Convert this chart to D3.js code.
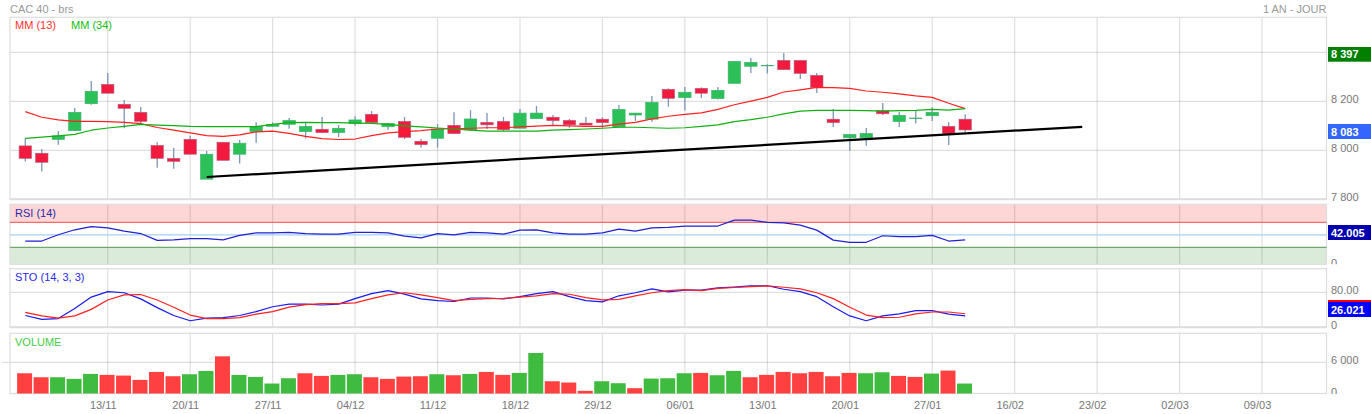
<!DOCTYPE html>
<html>
<head>
<meta charset="utf-8">
<script src="https://cdn.jsdelivr.net/npm/d3@7"></script>
<style>
  html, body { margin: 0; padding: 0; background: #fff; overflow: hidden; }
  svg { display: block; font-family: "Liberation Sans", Arial, sans-serif; font-size: 11px; }
  .grid line { stroke: #000; stroke-opacity: 0.125; stroke-width: 1.2; }
  .grid path { display: none; }
  .labels path, .labels line { display: none; }
  .labels text { fill: #777; font-size: 11px; font-family: "Liberation Sans", Arial, sans-serif; }
</style>
</head>
<body>
<div id="chart"></div>
<script>
// session index of each date label on the time axis
const tickDays = [5, 10, 15, 20, 25, 30, 35, 40, 45, 50, 55, 60, 65, 70, 75];
const tickLabels = ['13/11', '20/11', '27/11', '04/12', '11/12', '18/12', '29/12', '06/01',
  '13/01', '20/01', '27/01', '16/02', '23/02', '02/03', '09/03'];

const opens = [8018, 7988, 8044, 8080, 8190, 8269, 8188, 8155, 8020, 7967,
  8045, 7882, 8033, 7984, 8076, 8098, 8106, 8076, 8086, 8072,
  8109, 8147, 8096, 8118, 8037, 8049, 8102, 8083, 8114, 8118,
  8090, 8129, 8135, 8122, 8111, 8127, 8095, 8144, 8127, 8249,
  8215, 8253, 8211, 8273, 8343, 8345, 8367, 8367, 8306, 8127,
  8051, 8051, 8162, 8117, 8129, 8141, 8098, 8127];
const highs = [8049, 8005, 8079, 8173, 8283, 8316, 8205, 8177, 8033, 8010,
  8059, 7997, 8033, 8042, 8114, 8114, 8132, 8112, 8136, 8103,
  8139, 8160, 8111, 8136, 8046, 8107, 8155, 8164, 8152, 8136,
  8169, 8181, 8144, 8128, 8136, 8135, 8185, 8152, 8222, 8253,
  8258, 8257, 8258, 8363, 8377, 8351, 8397, 8367, 8316, 8169,
  8067, 8091, 8193, 8156, 8163, 8176, 8114, 8147];
const lows = [7954, 7913, 8023, 8080, 8186, 8233, 8090, 8107, 7929, 7925,
  7984, 7882, 7959, 7946, 8031, 8095, 8088, 8048, 8072, 8054,
  8100, 8111, 8084, 8046, 8011, 8011, 8068, 8080, 8087, 8079,
  8090, 8129, 8103, 8092, 8103, 8092, 8095, 8120, 8117, 8178,
  8162, 8213, 8207, 8273, 8316, 8313, 8329, 8291, 8234, 8095,
  7998, 8019, 8144, 8095, 8109, 8120, 8022, 8075];
const closes = [7967, 7951, 8059, 8155, 8241, 8233, 8171, 8118, 7967, 7955,
  7984, 7984, 7959, 8029, 8098, 8106, 8122, 8098, 8072, 8090,
  8124, 8113, 8110, 8053, 8023, 8087, 8068, 8128, 8104, 8084,
  8152, 8152, 8121, 8104, 8103, 8113, 8167, 8152, 8196, 8212,
  8237, 8233, 8245, 8363, 8359, 8347, 8329, 8314, 8257, 8113,
  8065, 8069, 8149, 8143, 8132, 8155, 8068, 8083];

const ma13 = [8158, 8135, 8124, 8118, 8118, 8117, 8114, 8109, 8093, 8082,
  8071, 8060, 8057, 8063, 8075, 8078, 8069, 8057, 8048, 8044,
  8046, 8060, 8071, 8076, 8080, 8087, 8088, 8090, 8092, 8092,
  8096, 8099, 8102, 8100, 8098, 8098, 8107, 8114, 8128, 8139,
  8147, 8153, 8167, 8186, 8201, 8216, 8238, 8247, 8257, 8256,
  8253, 8242, 8237, 8230, 8222, 8216, 8192, 8170];
const ma34 = [8049, 8054, 8059, 8065, 8082, 8091, 8098, 8106, 8103, 8101,
  8098, 8097, 8097, 8097, 8097, 8106, 8113, 8114, 8113, 8113,
  8111, 8110, 8106, 8100, 8096, 8091, 8087, 8082, 8078, 8078,
  8078, 8078, 8082, 8084, 8087, 8090, 8094, 8094, 8092, 8090,
  8092, 8098, 8104, 8117, 8125, 8135, 8149, 8160, 8163, 8163,
  8163, 8162, 8160, 8162, 8163, 8167, 8164, 8170];

const trendDays = [11, 64.1];
const trendPrices = [7891, 8096];

const rsi = [40, 40, 50, 58, 63, 61, 56, 52, 41, 42,
  44, 44, 42, 49, 53, 53, 54, 52, 51, 51,
  54, 54, 53, 48, 45, 52, 50, 54, 53, 51,
  57.5, 58, 53, 51, 51, 53, 59, 56, 61, 62,
  64, 64, 64, 73.5, 73.5, 70, 69, 65.5, 57.5, 41.5,
  38, 38, 48.5, 47, 47, 49, 40, 42.005];
const stoK = [27, 18, 20, 43, 69, 81.5, 79, 65, 45, 27,
  15, 21, 22, 27, 36, 47, 53, 53, 51, 53,
  65.5, 77, 84, 76, 65, 61, 59, 67, 67, 65,
  70, 77, 81.5, 70, 61, 58, 72, 79, 88, 81,
  85, 85, 90, 92, 94.5, 95, 87, 81.5, 70, 47,
  26, 15, 26, 30.5, 38, 38, 30, 26.021];
const stoD = [34, 26, 21, 26, 41, 62.5, 74, 75, 62.5, 46,
  28, 20, 20, 22, 30, 36, 46, 52, 54, 54,
  56, 65.5, 74, 79, 74, 68, 61, 64, 65.5, 66,
  69, 72, 77, 75.5, 68, 62.5, 64, 72, 79, 84,
  86, 84, 89, 91, 93, 94.5, 91.5, 88, 79, 65.5,
  46, 28, 22, 23, 30.5, 35, 35, 31];

const volumes = [3894, 3128, 3128, 2809, 3766, 3574, 3447, 2617, 4149, 3319,
  3702, 4340, 7149, 3574, 3191, 1915, 2936, 3894, 3383, 3574,
  3702, 3128, 2809, 3255, 3319, 3702, 3511, 3766, 4149, 3574,
  3957, 7787, 2362, 2106, 511, 2362, 1979, 1021, 2872, 2936,
  3894, 3957, 3511, 4340, 3128, 3574, 4149, 3894, 4149, 3319,
  3957, 3894, 4085, 3383, 3191, 3830, 4404, 1915];
const volumeUp = [0, 0, 1, 1, 1, 0, 0, 0, 0, 0,
  1, 1, 0, 1, 1, 1, 1, 0, 0, 1,
  1, 0, 0, 0, 0, 1, 0, 1, 0, 0,
  1, 1, 0, 0, 0, 1, 1, 0, 1, 1,
  1, 0, 1, 1, 0, 0, 0, 0, 0, 0,
  0, 1, 1, 0, 0, 1, 0, 1];

const width = 1371;
const height = 414;
const left = 10;
const right = 1326.5;

const main = { top: 17.3, bottom: 199.3 };
const rsiBox = { top: 204.3, bottom: 264.3 };
const stoBox = { top: 268.7, bottom: 327.3 };
const volBox = { top: 333.3, bottom: 393.5 };

const days = d3.range(opens.length);

const x = d3.scaleLinear().domain([0, 75]).range([25.3, 1262]);
const yPrice = d3.scaleLinear().domain([7800, 8400]).range([199.3, 52.3]);
const yRsi = d3.scaleLinear().domain([30, 70]).range([247.3, 222.3]);
const ySto = d3.scaleLinear().domain([0, 80]).range([327.3, 292.3]);
const yVol = d3.scaleLinear().domain([0, 6000]).range([393.5, 362.3]);

const spaced = d3.formatLocale({ thousands: ' ', grouping: [3], decimal: '.', currency: ['', ''] }).format(',d');

const svg = d3.select('#chart').append('svg')
  .attr('width', width)
  .attr('height', height)
  .attr('viewBox', `0 0 ${width} ${height}`);

function panelGrid(box, y, levels, overhang = 0) {
  const g = svg.append('g').attr('class', 'grid');

  g.append('g')
    .attr('transform', `translate(0, ${box.bottom})`)
    .call(d3.axisBottom(x).offset(0).tickValues(tickDays).tickFormat('').tickSize(-(box.bottom - box.top)));

  g.append('g')
    .attr('transform', `translate(${right}, 0)`)
    .call(d3.axisLeft(y).offset(0).tickValues(levels).tickFormat('').tickSize(right - left + overhang));
}

function panelFrame(box) {
  svg.append('rect')
    .attr('x', left)
    .attr('y', box.top)
    .attr('width', right - left)
    .attr('height', box.bottom - box.top)
    .attr('fill', 'none')
    .attr('stroke', '#ddd')
    .attr('stroke-width', 1.2);
}

function priceLabels(y, values, format, clipId) {
  const g = svg.append('g')
    .attr('class', 'labels')
    .attr('transform', `translate(${right + 4.5}, -1.5)`)
    .call(d3.axisRight(y).offset(0).tickValues(values).tickFormat(format).tickSize(0).tickPadding(0));
  if (clipId) g.attr('clip-path', `url(#${clipId})`);
  return g;
}

function valueBox(y, boxHeight, fill, label) {
  svg.append('rect')
    .attr('x', 1328)
    .attr('y', y)
    .attr('width', 43)
    .attr('height', boxHeight)
    .attr('fill', fill);
  if (label) {
    svg.append('text')
      .attr('x', 1331)
      .attr('y', y + boxHeight / 2 + 4)
      .attr('fill', '#fff')
      .attr('font-weight', 'bold')
      .text(label);
  }
}

function caption(px, py, color, label, anchor = 'start') {
  svg.append('text')
    .attr('x', px)
    .attr('y', py)
    .attr('fill', color)
    .attr('text-anchor', anchor)
    .text(label);
}

function drawLine(values, y, color, lineWidth) {
  const line = d3.line()
    .x((d, i) => x(i))
    .y(d => y(d));
  svg.append('path')
    .attr('d', line(values))
    .attr('fill', 'none')
    .attr('stroke', color)
    .attr('stroke-width', lineWidth)
    .attr('stroke-linejoin', 'round');
}

// clip for the two bottom labels that get cut off by their panel
const defs = svg.append('defs');
defs.append('clipPath').attr('id', 'rsi-clip').append('rect')
  .attr('x', 0).attr('y', rsiBox.top).attr('width', 60).attr('height', rsiBox.bottom - rsiBox.top + 1);
defs.append('clipPath').attr('id', 'vol-clip').append('rect')
  .attr('x', 0).attr('y', volBox.top).attr('width', 60).attr('height', volBox.bottom - volBox.top + 2);

// ---------- price panel ----------
panelGrid(main, yPrice, [8000, 8200, 8400]);
panelFrame(main);
svg.append('line')
  .attr('x1', left).attr('x2', right)
  .attr('y1', main.bottom).attr('y2', main.bottom)
  .attr('stroke', '#ddd').attr('stroke-width', 2);

const candles = svg.append('g');

candles.selectAll('line')
  .data(days)
  .join('line')
  .attr('x1', d => x(d))
  .attr('x2', d => x(d))
  .attr('y1', d => yPrice(highs[d]))
  .attr('y2', d => yPrice(lows[d]))
  .attr('stroke', '#7b96b5')
  .attr('stroke-width', 1.3);

candles.selectAll('rect')
  .data(days)
  .join('rect')
  .attr('x', d => x(d) - 6.2)
  .attr('width', 12.4)
  .attr('y', d => yPrice(Math.max(opens[d], closes[d])))
  .attr('height', d => Math.max(0.6, Math.abs(yPrice(opens[d]) - yPrice(closes[d]))))
  .attr('fill', d => closes[d] >= opens[d] ? '#2bc158' : '#f31a3f')
  .attr('stroke', d => closes[d] >= opens[d] ? '#3fb070' : '#b0607f')
  .attr('stroke-width', 0.6);

drawLine(ma13, yPrice, '#ff2020', 1.2);
drawLine(ma34, yPrice, '#10b010', 1.2);

svg.append('path')
  .attr('d', d3.line().x(d => x(d)).y((d, i) => yPrice(trendPrices[i]))(trendDays))
  .attr('fill', 'none')
  .attr('stroke', '#000')
  .attr('stroke-width', 2.2);

priceLabels(yPrice, [8200, 8000, 7800], spaced);
valueBox(47, 14.7, '#007f00', '8 397');
valueBox(124, 15, '#3366ff', '8 083');

caption(10, 13, '#999', 'CAC 40 - brs');
caption(right, 13, '#999', '1 AN - JOUR', 'end');
caption(15, 29, '#ff3030', 'MM (13)');
caption(71, 29, '#10c010', 'MM (34)');

// ---------- RSI panel ----------
svg.append('rect')
  .attr('x', left).attr('width', right - left)
  .attr('y', rsiBox.top).attr('height', yRsi(70) - rsiBox.top)
  .attr('fill', '#ffd6d6');
svg.append('rect')
  .attr('x', left).attr('width', right - left)
  .attr('y', yRsi(30)).attr('height', rsiBox.bottom - yRsi(30))
  .attr('fill', '#dbebd9');
panelGrid(rsiBox, yRsi, []);
panelFrame(rsiBox);

[[70, '#f76b6b'], [50, '#a3d0f8'], [30, '#6fa96f']].forEach(([level, color]) => {
  svg.append('line')
    .attr('x1', left).attr('x2', right)
    .attr('y1', yRsi(level)).attr('y2', yRsi(level))
    .attr('stroke', color)
    .attr('stroke-width', 1.2);
});

drawLine(rsi, yRsi, '#2020d0', 1.2);
caption(15, 217, '#2a2aa8', 'RSI (14)');
priceLabels(yRsi, [3.2], () => '0', 'rsi-clip')
  .attr('transform', `translate(${right + 4.5}, -1)`);
valueBox(225, 15, '#0000b0', '42.005');

// ---------- stochastic panel ----------
panelGrid(stoBox, ySto, [80]);
panelFrame(stoBox);
svg.append('line')
  .attr('x1', left).attr('x2', right)
  .attr('y1', stoBox.bottom).attr('y2', stoBox.bottom)
  .attr('stroke', '#ddd').attr('stroke-width', 2);

drawLine(stoK, ySto, '#1a1af0', 1.2);
drawLine(stoD, ySto, '#ff2020', 1.2);
caption(15, 281, '#2a2af0', 'STO (14, 3, 3)');
priceLabels(ySto, [80, 0], d => d === 80 ? '80.00' : '0');
valueBox(300, 15, '#ff0000');
valueBox(302, 15, '#0000ff', '26.021');

// ---------- volume panel ----------
panelGrid(volBox, yVol, [6000], 8);
panelFrame(volBox);

svg.append('g').selectAll('rect')
  .data(days)
  .join('rect')
  .attr('x', d => x(d) - 8.2)
  .attr('width', 15)
  .attr('y', d => yVol(volumes[d]))
  .attr('height', d => yVol(0) - yVol(volumes[d]))
  .attr('fill', d => volumeUp[d] ? '#2fb52f' : '#ff3030')
  .attr('fill-opacity', 0.92);

caption(15, 346, '#44cc44', 'VOLUME');
priceLabels(yVol, [6000, 0], d => d === 0 ? '0' : spaced(d), 'vol-clip');

// ---------- time axis labels ----------
svg.append('g')
  .attr('class', 'labels')
  .attr('transform', `translate(-4.5, ${volBox.bottom + 5})`)
  .call(d3.axisBottom(x).offset(0).tickValues(tickDays).tickFormat((d, i) => tickLabels[i]).tickSize(0).tickPadding(3));
</script>
</body>
</html>
